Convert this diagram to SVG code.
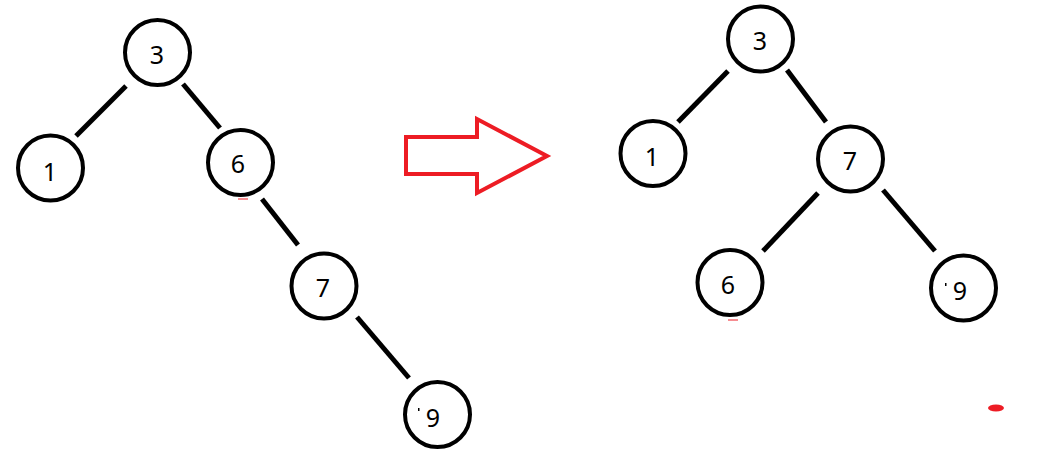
<svg xmlns="http://www.w3.org/2000/svg" width="1051" height="464" viewBox="0 0 1051 464">
<style>
.node circle{fill:#fff;stroke:#000;stroke-width:4}
.node text{font-family:"Noto Sans","Open Sans","Liberation Sans",sans-serif;font-size:25px;fill:#000;text-anchor:middle}
.edge{stroke:#000;stroke-width:5;stroke-linecap:butt}
.red{fill:#ed1c24}
</style>
<rect width="1051" height="464" fill="#fff"/>
<g id="connectors">
<line class="edge" x1="126" y1="86" x2="76" y2="136"/>
<line class="edge" x1="183" y1="84" x2="220" y2="128"/>
<line class="edge" x1="262" y1="199" x2="298" y2="245"/>
<line class="edge" x1="357" y1="317" x2="409" y2="378"/>
<line class="edge" x1="728" y1="71" x2="678" y2="122"/>
<line class="edge" x1="787" y1="70" x2="826" y2="122"/>
<line class="edge" x1="818" y1="193" x2="763" y2="251"/>
<line class="edge" x1="883" y1="190" x2="935" y2="251"/>
</g>
<g id="L3" class="node"><circle cx="157.5" cy="52.5" r="32.5"/><text x="157" y="64">3</text></g>
<g id="L1" class="node"><circle cx="50.5" cy="168" r="32.5"/><text x="50" y="181">1</text></g>
<g id="L6" class="node"><circle cx="240.5" cy="162.5" r="32.5"/><text x="238" y="173">6</text></g>
<g id="L7" class="node"><circle cx="324" cy="286" r="32.5"/><text x="323" y="297">7</text></g>
<g id="L9" class="node"><circle cx="437.5" cy="414.5" r="32.5"/><text x="433" y="427">9</text><rect x="418" y="408" width="1.5" height="3" fill="#000"/></g>
<g id="arrow"><polygon points="406,137 477,137 477,119 547,156 477,193 477,174 406,174" fill="none" stroke="#ed1c24" stroke-width="4" stroke-linejoin="miter"/></g>
<g id="R3" class="node"><circle cx="760.5" cy="39" r="32.5"/><text x="760" y="50">3</text></g>
<g id="R1" class="node"><circle cx="653" cy="153.5" r="32.5"/><text x="652" y="166">1</text></g>
<g id="R7" class="node"><circle cx="850.5" cy="159" r="32.5"/><text x="850" y="170">7</text></g>
<g id="R6" class="node"><circle cx="730" cy="282.5" r="32.5"/><text x="728" y="294">6</text></g>
<g id="R9" class="node"><circle cx="963.5" cy="288" r="32.5"/><text x="960" y="300">9</text><rect x="945" y="283" width="1.5" height="3" fill="#000"/></g>
<rect class="red" x="238" y="198.5" width="10" height="1"/>
<rect class="red" x="728" y="319.5" width="10" height="1"/>
<ellipse class="red" cx="996" cy="408" rx="8" ry="3.5"/>
</svg>
